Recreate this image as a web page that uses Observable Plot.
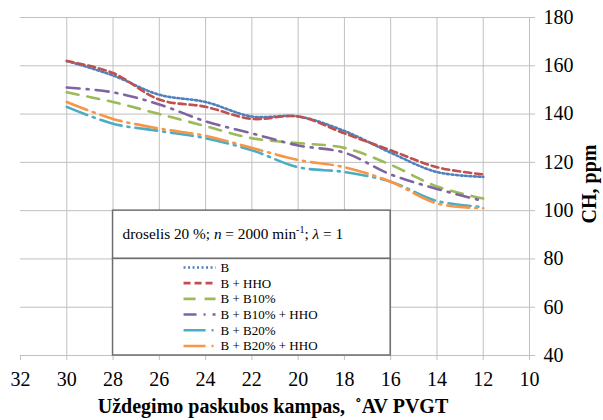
<!DOCTYPE html>
<html><head><meta charset="utf-8">
<script src="https://cdn.jsdelivr.net/npm/d3@7"></script>
<script src="https://cdn.jsdelivr.net/npm/@observablehq/plot@0.6"></script>
<style>
body{margin:0;background:#fff;}
#chart svg{display:block;}
#chart svg text{font-family:"Liberation Serif","DejaVu Serif",serif;}
</style></head><body><div id="chart"></div>
<script>
const angles = [30, 28, 26, 24, 22, 20, 18, 16, 14, 12];
const sB        = [162, 156, 148, 145, 139, 139, 133, 124, 116, 114];
const sBHHO     = [162, 157, 146, 143, 138, 139, 132, 125, 118, 115];
const sB10      = [149, 145, 140, 135, 130, 128, 126, 119, 110, 105];
const sB10HHO   = [151, 149, 144, 137, 132, 127, 124, 115, 109, 104];
const sB20      = [143, 136, 133, 130, 125, 118, 116, 112, 104, 101.5];
const sB20HHO   = [145, 138, 134, 131, 126, 121, 118, 112, 103, 101];
const seriesNames = ["B", "B + HHO", "B + B10%", "B + B10% + HHO", "B + B20%", "B + B20% + HHO"];
const seriesValues = [sB, sBHHO, sB10, sB10HHO, sB20, sB20HHO];
const colors = ["#4F81BD", "#C0504D", "#9BBB59", "#8064A2", "#4BACC6", "#F79646"];
const dashes = ["2 2.5", "7 4", "12 9", "13 7 2 7", "22 6 2 6", "22 6 2 6"];
const xTicks = [32, 30, 28, 26, 24, 22, 20, 18, 16, 14, 12, 10];
const yTicks = [40, 60, 80, 100, 120, 140, 160, 180];
const xTitle = "Uždegimo paskubos kampas,  ˚AV PVGT";
const yTitle = "CH, ppm";

const rows = seriesNames.flatMap((s, i) => angles.map((a, j) => ({series: s, angle: a, value: seriesValues[i][j]})));
const grid = "#c0c0c0";
const serif = "Liberation Serif, DejaVu Serif, serif";

const chart = Plot.plot({
  width: 603, height: 420,
  marginLeft: 20, marginRight: 74, marginTop: 17, marginBottom: 65,
  style: {background: "#fff", color: "#000"},
  x: {domain: [32, 10]},
  y: {domain: [40, 180]},
  marks: [
    Plot.gridY(yTicks, {stroke: grid, strokeOpacity: 1, strokeWidth: 1}),
    Plot.gridX(xTicks.filter(v => v !== 32), {stroke: grid, strokeOpacity: 1, strokeWidth: 1}),
    Plot.axisY(yTicks, {anchor: "right", tickSize: 5, tickPadding: 9, stroke: grid, strokeOpacity: 1, fill: "#000", fontSize: 20, fontFamily: serif, fontVariant: "normal", label: null}),
    Plot.axisX(xTicks, {anchor: "bottom", tickSize: 5, tickPadding: 11, stroke: grid, strokeOpacity: 1, fill: "#000", fontSize: 20, fontFamily: serif, fontVariant: "normal", label: null}),
    ...seriesNames.map((s, i) => Plot.line(rows.filter(d => d.series === s), {
      x: "angle", y: "value", stroke: colors[i], strokeWidth: 2.6,
      strokeDasharray: dashes[i], curve: "catmull-rom"
    }))
  ]
});
document.getElementById("chart").appendChild(chart);

const svg = d3.select(chart);
const xs = chart.scale("x"), ys = chart.scale("y");
// legend boxes placed at chart positions (x 28..16, y 100..80..40)
const bx1 = xs.apply(28), bx2 = xs.apply(16);
const by1 = ys.apply(100), by2 = ys.apply(80), by3 = ys.apply(40);
const g = svg.append("g").attr("text-anchor", "start");
g.append("rect").attr("x", bx1).attr("y", by1).attr("width", bx2 - bx1).attr("height", by2 - by1)
  .attr("fill", "#fff").attr("stroke", "#6e6e6e").attr("stroke-width", 1.5);
g.append("rect").attr("x", bx1).attr("y", by2).attr("width", bx2 - bx1).attr("height", by3 - by2)
  .attr("fill", "#fff").attr("stroke", "#6e6e6e").attr("stroke-width", 1.5);
const t = g.append("text").attr("x", bx1 + 10).attr("y", (by1 + by2) / 2 + 5).attr("font-size", 15.3).attr("fill", "#000");
t.append("tspan").text("droselis 20 %; ");
t.append("tspan").attr("font-style", "italic").text("n");
t.append("tspan").text(" = 2000 min");
t.append("tspan").attr("font-size", 10).attr("dy", -6).text("-1");
t.append("tspan").attr("dy", 6).text("; ");
t.append("tspan").attr("font-style", "italic").text("λ");
t.append("tspan").text(" = 1");

seriesNames.forEach((s, i) => {
  const cy = by2 + 9 + i * 15.7;
  g.append("line").attr("x1", bx1 + 71).attr("x2", bx1 + 103).attr("y1", cy).attr("y2", cy)
    .attr("stroke", colors[i]).attr("stroke-width", 2.6).attr("stroke-dasharray", dashes[i]);
  g.append("text").attr("x", bx1 + 108).attr("y", cy + 4.5).attr("font-size", 13).attr("fill", "#000").text(s);
});

svg.append("text").attr("x", 273).attr("y", 413).attr("text-anchor", "middle")
  .attr("font-weight", "bold").attr("font-size", 20).attr("fill", "#000").text(xTitle);
svg.append("text").attr("transform", "translate(596,184) rotate(-90)").attr("text-anchor", "middle")
  .attr("font-weight", "bold").attr("font-size", 20).attr("fill", "#000").text(yTitle);
</script>
</body></html>
